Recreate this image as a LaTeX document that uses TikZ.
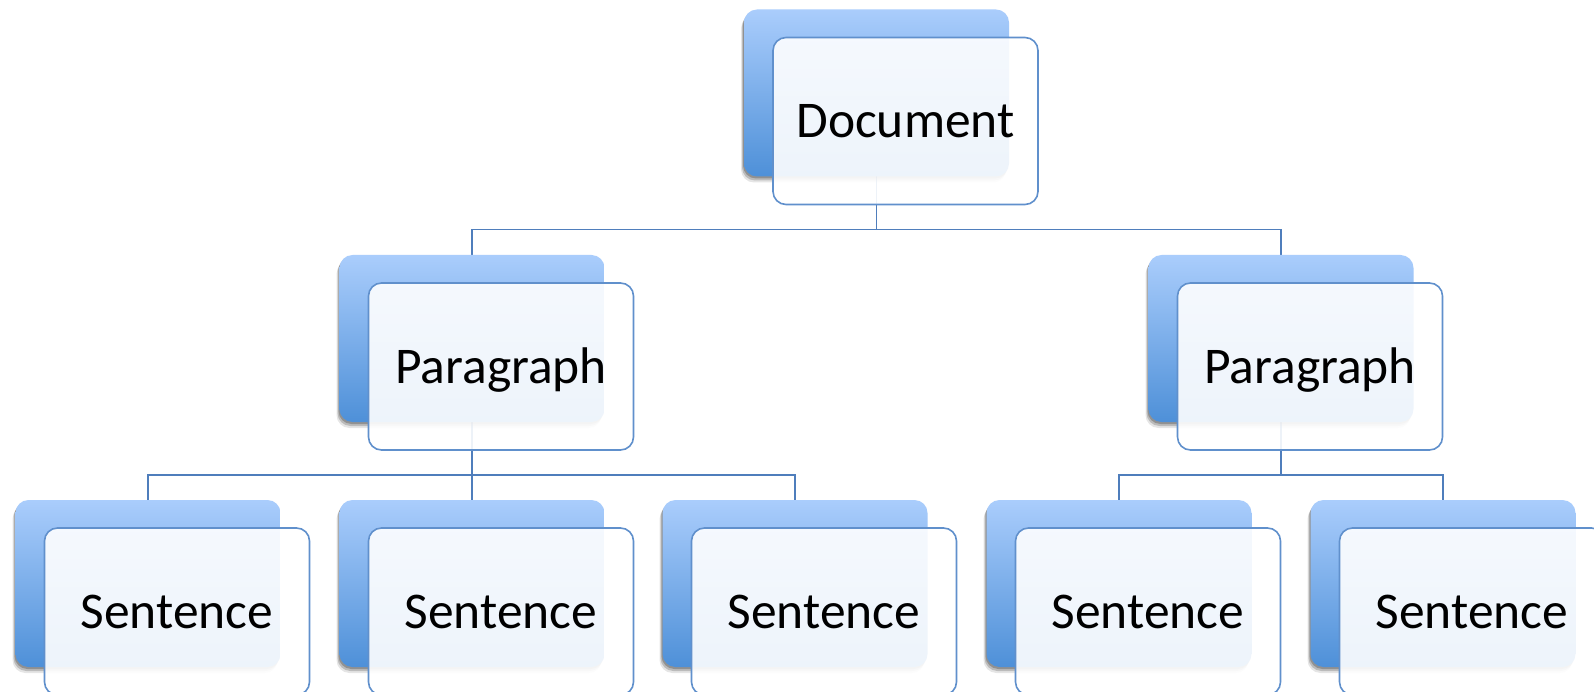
\documentclass[tikz,border=0pt]{standalone}
\usepackage{fontspec}
\setmainfont{Carlito}
\pgfdeclarelayer{paper}
\pgfdeclarelayer{links}
\pgfdeclarelayer{cards}
\pgfsetlayers{paper,links,cards,main}
\definecolor{cardtop}{RGB}{170,205,252}
\definecolor{cardbot}{RGB}{78,144,216}
\definecolor{edgeblue}{RGB}{96,144,204}
\definecolor{linkblue}{RGB}{79,126,188}
\tikzset{
  backcard/.style={rectangle, rounded corners=13pt, minimum width=265pt,
    minimum height=167pt, outer sep=0pt, inner sep=0pt,
    top color=cardtop, bottom color=cardbot,
    preaction={fill=black, fill opacity=0.10,
      transform canvas={xshift=-3pt, yshift=-6pt}},
    preaction={fill=black, fill opacity=0.18,
      transform canvas={xshift=-2pt, yshift=-4pt}},
    preaction={fill=black, fill opacity=0.22,
      transform canvas={xshift=-1pt, yshift=-2pt}}},
  frontcard/.style={rectangle, rounded corners=13pt, minimum width=265pt,
    minimum height=167pt, outer sep=0pt, inner sep=0pt,
    draw=edgeblue, line width=1.6pt, fill=white, fill opacity=0.9,
    text opacity=1, text height=33pt, text depth=0pt,
    font=\fontsize{51.5}{60}\selectfont},
  link/.style={draw=linkblue, line width=1.8pt}
}
\begin{document}
\begin{tikzpicture}[x=1pt,y=-1pt]
\clip (0,0) rectangle (1594,692);
\begin{pgfonlayer}{paper}
\fill[white] (0,0) rectangle (1594,692);
\end{pgfonlayer}

% back cards (document, paragraphs, sentences)
\begin{pgfonlayer}{cards}
\node[backcard] (docB) at (876.5,93) {};
\node[backcard] (p1B) at (472,338.5) {};
\node[backcard] (p2B) at (1281,338.5) {};
\node[backcard] (s1B) at (148,583.5) {};
\node[backcard] (s2B) at (472,583.5) {};
\node[backcard] (s3B) at (795,583.5) {};
\node[backcard] (s4B) at (1119,583.5) {};
\node[backcard] (s5B) at (1443,583.5) {};
\end{pgfonlayer}

% tree connectors, kept beneath the cards
\begin{pgfonlayer}{links}
\draw[link] (docB.south) -- ++(0,53) -| (p1B.north);
\draw[link] (docB.south) -- ++(0,53) -| (p2B.north);
\draw[link] (p1B.south) -- ++(0,53) -| (s1B.north);
\draw[link] (p1B.south) -- ++(0,53) -| (s2B.north);
\draw[link] (p1B.south) -- ++(0,53) -| (s3B.north);
\draw[link] (p2B.south) -- ++(0,53) -| (s4B.north);
\draw[link] (p2B.south) -- ++(0,53) -| (s5B.north);
\end{pgfonlayer}

% front cards with labels
\node[frontcard] (docF) at (905.5,121) {Document};
\node[frontcard] (p1F) at (501,366.5) {Paragraph};
\node[frontcard] (p2F) at (1310,366.5) {Paragraph};
\node[frontcard] (s1F) at (177,611.5) {Sentence};
\node[frontcard] (s2F) at (501,611.5) {Sentence};
\node[frontcard] (s3F) at (824,611.5) {Sentence};
\node[frontcard] (s4F) at (1148,611.5) {Sentence};
\node[frontcard] (s5F) at (1472,611.5) {Sentence};
\end{tikzpicture}
\end{document}
